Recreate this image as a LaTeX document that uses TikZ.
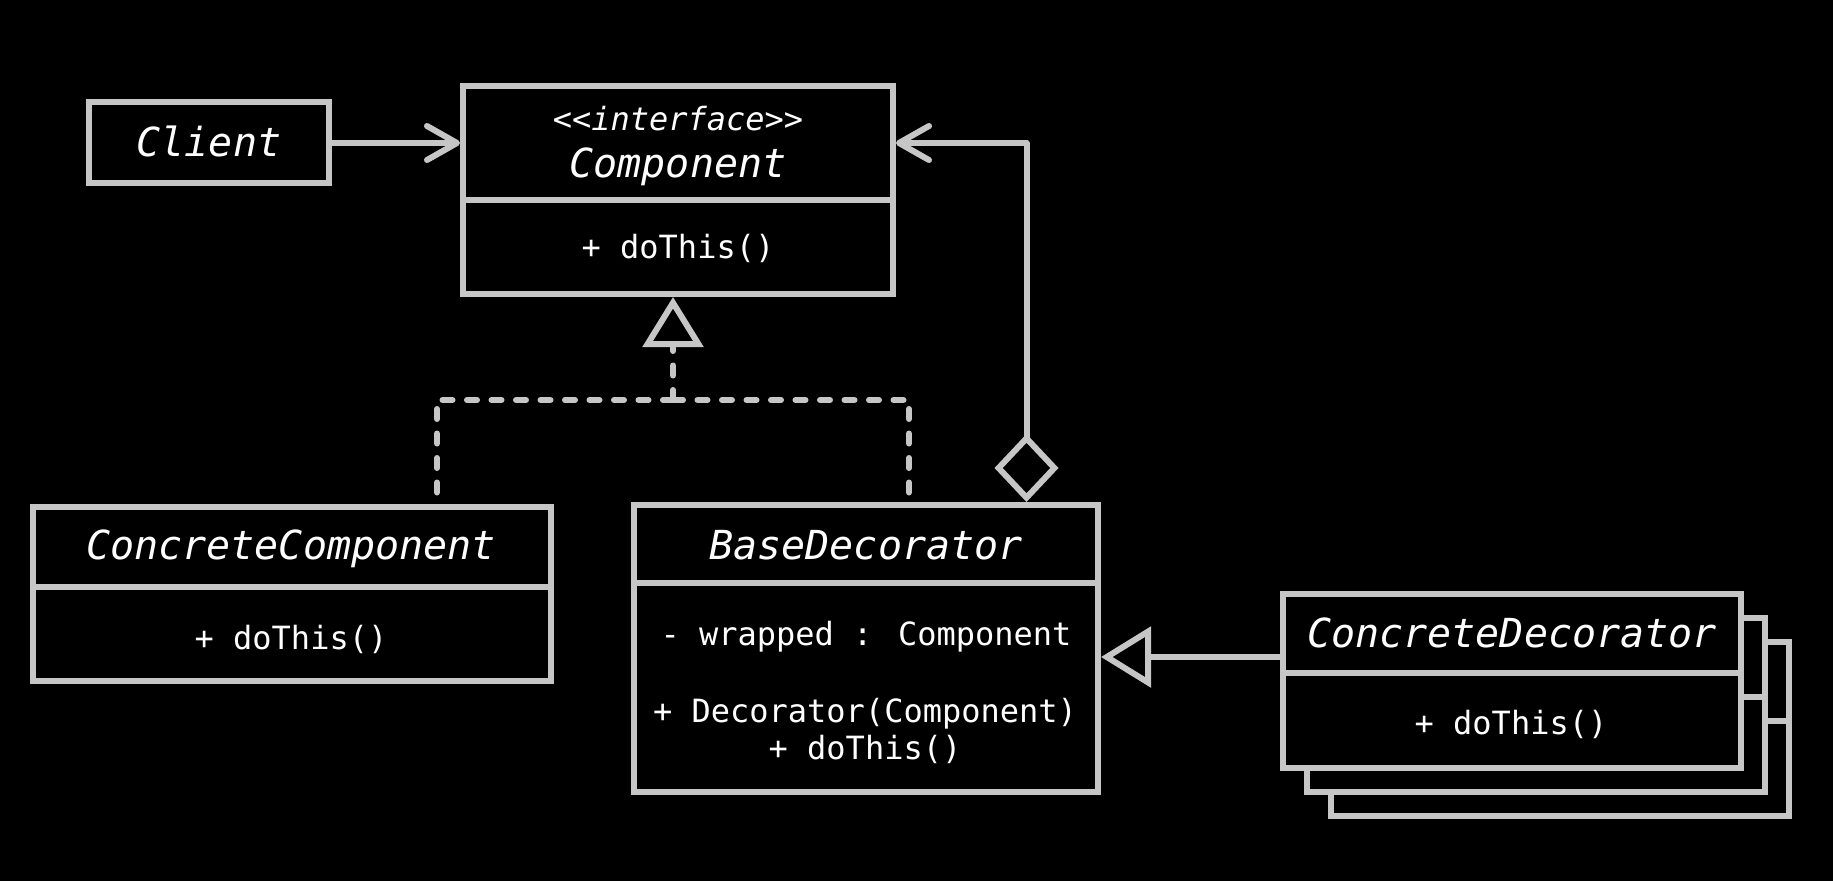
\documentclass[tikz,border=0pt]{standalone}
\usepackage{fontspec}
\newfontfamily\mono{DejaVu Sans Mono}
\usetikzlibrary{arrows.meta}
\definecolor{linegray}{HTML}{C6C6C6}
\begin{document}
\begin{tikzpicture}[x=1pt,y=-1pt,
  classbox/.style={draw=linegray,line width=6pt,fill=black,inner sep=0pt},
  divider/.style={draw=linegray,line width=6pt},
  nametext/.style={text=white,inner sep=0pt,anchor=base,font=\mono\itshape\fontsize{40}{48}\selectfont},
  stereotext/.style={text=white,inner sep=0pt,anchor=base,font=\mono\itshape\fontsize{32}{40}\selectfont},
  membertext/.style={text=white,inner sep=0pt,anchor=base,font=\mono\fontsize{32}{40}\selectfont},
  conn/.style={draw=linegray,line width=6pt,line join=round},
  realize/.style={conn,line cap=round,dash pattern=on 10pt off 14.5pt},
  opentri/.style={-{Triangle[open,length=50pt,width=60pt,fill=black]}},
  openbarb/.style={-{Straight Barb[length=30pt,width=34pt,round]}},
]
\fill[black] (0,0) rectangle (1833,881);

% helper coordinates
\coordinate (aggx) at (1026.5,0);
\coordinate (aggy) at (0,143);
\coordinate (jn) at (673,400);
\coordinate (ccx) at (437,0);
\coordinate (bdx) at (909,0);
\coordinate (inhy) at (0,657);

% Client
\node[classbox,minimum width=240pt,minimum height=81pt] (client) at (209,142.5) {};
\node[nametext] (clientname) at (209,156) {Client};

% Component
\node[classbox,minimum width=430pt,minimum height=208pt] (comp) at (678,190) {};
\draw[divider] (comp.west |- 0,200) -- (comp.east |- 0,200);
\node[stereotext] (compstereo) at (678,130) {<<interface>>};
\node[nametext] (compname) at (678,177) {Component};
\node[membertext] (compop) at (678,258) {+ doThis()};

% ConcreteComponent
\node[classbox,minimum width=518pt,minimum height=174pt] (cc) at (292,594) {};
\draw[divider] (cc.west |- 0,587) -- (cc.east |- 0,587);
\node[nametext] (ccname) at (291,559) {ConcreteComponent};
\node[membertext] (ccop) at (291,649) {+ doThis()};

% BaseDecorator
\node[classbox,minimum width=464pt,minimum height=287pt] (bd) at (866,648.5) {};
\draw[divider] (bd.west |- 0,583) -- (bd.east |- 0,583);
\node[nametext] (bdname) at (866,559) {BaseDecorator};
\node[membertext] (bdfield) at (866,645) {- wrapped : Component};
\node[membertext] (bdctor) at (865,722) {+ Decorator(Component)};
\node[membertext] (bdop) at (865,759) {+ doThis()};

% ConcreteDecorator stack
\node[classbox,minimum width=458pt,minimum height=174pt] (cd3) at (1560,729) {};
\draw[divider] (cd3.west |- 0,721) -- (cd3.east |- 0,721);
\node[classbox,minimum width=458pt,minimum height=174pt] (cd2) at (1536,705) {};
\draw[divider] (cd2.west |- 0,697) -- (cd2.east |- 0,697);
\node[classbox,minimum width=458pt,minimum height=174pt] (cd) at (1512,681) {};
\draw[divider] (cd.west |- 0,673) -- (cd.east |- 0,673);
\node[nametext] (cdname) at (1512,647) {ConcreteDecorator};
\node[membertext] (cdop) at (1511,734) {+ doThis()};

% Client -> Component
\draw[conn,openbarb] (client.east |- aggy) -- (comp.west |- aggy);

% Aggregation BaseDecorator <>-> Component
\draw[conn,{Diamond[open,length=68pt,width=64pt,fill=black]}-{Straight Barb[length=30pt,width=34pt,round]}]
  (bd.north -| aggx) |- (comp.east |- aggy);

% Realization (dashed) to Component
\draw[realize] (jn) -| (cc.north -| ccx);
\draw[realize] (jn) -| (bd.north -| bdx);
\draw[realize,opentri] (jn) -- (comp.south -| jn);

% Inheritance ConcreteDecorator -> BaseDecorator
\draw[conn,opentri] (cd.west |- inhy) -- (bd.east |- inhy);
\end{tikzpicture}
\end{document}
